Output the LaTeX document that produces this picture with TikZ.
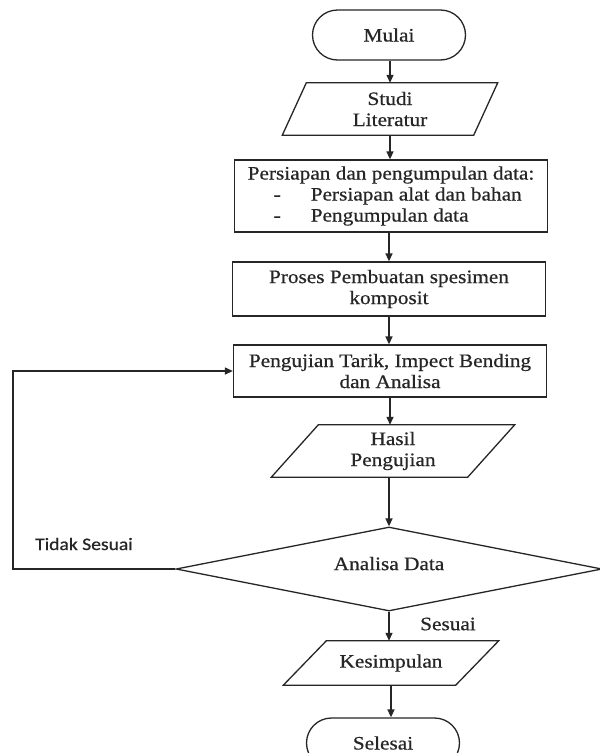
\documentclass[tikz,border=0pt]{standalone}
\usepackage{fontspec}
\setmainfont{Liberation Serif}[FakeStretch=1.12,FakeBold=0.6]
\newfontfamily\sansfnt{Carlito}[FakeStretch=1.12,FakeBold=0.6]
\usetikzlibrary{arrows.meta,shapes.geometric,shapes.misc,calc}
\newcommand{\pgram}[2]{\draw[line] ([xshift=#2pt]#1.north west) -- ([xshift=#2pt]#1.north east) -- ([xshift=-#2pt]#1.south east) -- ([xshift=-#2pt]#1.south west) -- cycle;}
\begin{document}
\begin{tikzpicture}[x=1pt,y=-1pt,
  every node/.style={font=\fontsize{19}{21}\selectfont, inner sep=0pt, text=black!85},
  line/.style={line width=1.3pt, draw=black!85},
  arr/.style={line width=1.3pt, draw=black!85, -{Triangle[length=8pt,width=7pt]}},
  term/.style={rounded rectangle, draw=black!85, line width=1.3pt, minimum width=153pt, minimum height=50pt},
  box/.style={rectangle, draw=black!85, line width=1.3pt, minimum width=313pt, align=center},
  io/.style={align=center, minimum height=52pt},
  dec/.style={diamond, draw=black!85, line width=1.3pt, aspect=5, minimum width=426pt, minimum height=84pt}]
\useasboundingbox (0,0) rectangle (600,753);
\clip (0,0) rectangle (600,753);
\fill[white] (0,0) rectangle (600,753);

\node[term] (mulai) at (389,35) {Mulai};
\node[io, minimum width=191pt] (studi) at (390,109) {Studi\\Literatur};
\pgram{studi}{12}
\node[box, minimum height=72pt, align=left] (persiapan) at (391,196)
  {Persiapan dan pengumpulan data:\\\hspace*{26pt}-\hspace*{30pt}Persiapan alat dan bahan\\\hspace*{26pt}-\hspace*{30pt}Pengumpulan data};
\node[box, minimum height=54pt] (proses) at (389,289) {Proses Pembuatan spesimen\\komposit};
\node[box, minimum height=52pt] (uji) at (390,371) {Pengujian Tarik, Impect Bending\\dan Analisa};
\node[io, minimum width=196pt] (hasil) at (393,451) {Hasil\\Pengujian};
\pgram{hasil}{23.5}
\node[dec] (analisa) at (389,569) {\raisebox{11pt}{Analisa Data}};
\node[font=\sansfnt\fontsize{17.5}{20}\selectfont] (tidak) at (84,544) {Tidak Sesuai};
\node (sesuai) at (448,624) {Sesuai};
\node[io, minimum width=172pt, minimum height=44pt] (kesimpulan) at (391,663) {Kesimpulan};
\pgram{kesimpulan}{21.5}
\node[term] (selesai) at (383,743) {Selesai};
\coordinate (loopx) at (13,569);

\draw[arr] (mulai.south -| studi.north) -- (studi.north);
\draw[arr] (studi.south) -- (persiapan.north -| studi.south);
\draw[arr] (persiapan.south -| proses.north) -- (proses.north);
\draw[arr] (proses.south) -- (uji.north -| proses.south);
\draw[arr] (uji.south) -- (hasil.north -| uji.south);
\draw[arr] (hasil.south -| analisa.north) -- (analisa.north);
\draw[arr] (analisa.south) -- (kesimpulan.north -| analisa.south);
\draw[arr] (kesimpulan.south) -- (selesai.north -| kesimpulan.south);
\draw[arr] (analisa.west) -- (loopx) |- (uji.west);
\end{tikzpicture}
\end{document}
